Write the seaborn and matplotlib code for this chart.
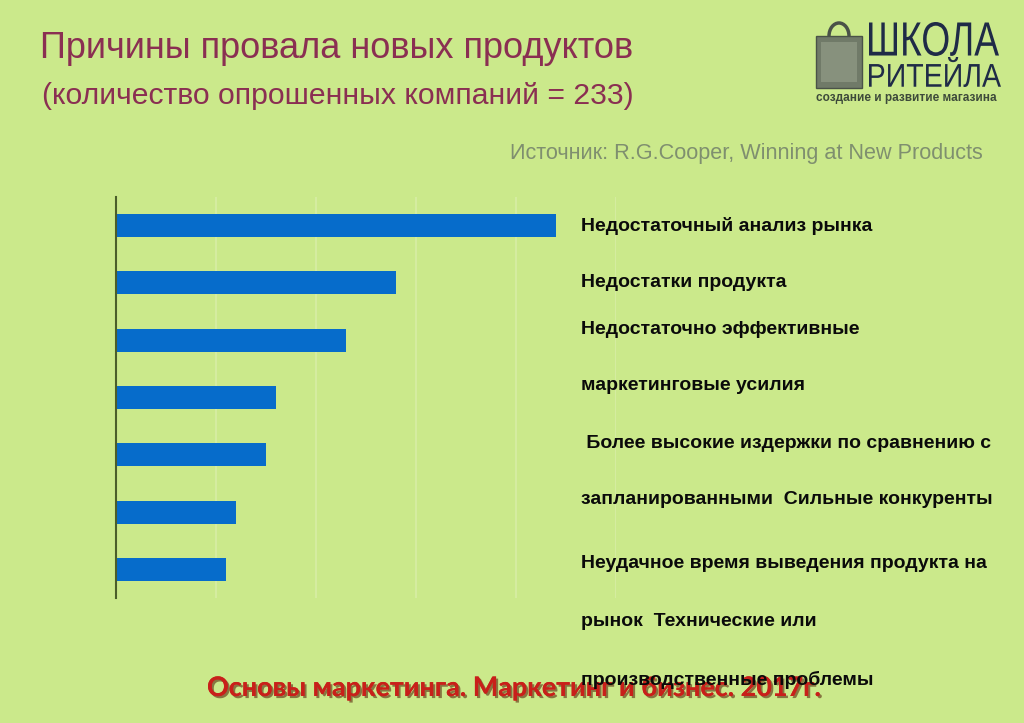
import matplotlib
matplotlib.use("Agg")
import matplotlib.pyplot as plt
import seaborn as sns
import pandas as pd
from matplotlib.patches import Rectangle, Arc, PathPatch
from matplotlib.textpath import TextPath
from matplotlib.font_manager import FontProperties
from matplotlib.transforms import Affine2D
import matplotlib.patheffects as pe

# ---- data ----
reasons = [
    "Недостаточный анализ рынка",
    "Недостатки продукта",
    "Недостаточно эффективные маркетинговые усилия",
    "Более высокие издержки по сравнению с запланированными",
    "Сильные конкуренты",
    "Неудачное время выведения продукта на рынок",
    "Технические или производственные проблемы",
]
values = [44, 28, 23, 16, 15, 12, 11]
label_lines = [
    "Недостаточный анализ рынка",
    "Недостатки продукта",
    "Недостаточно эффективные",
    "маркетинговые усилия",
    " Более высокие издержки по сравнению с",
    "запланированными  Сильные конкуренты",
    "Неудачное время выведения продукта на",
    "рынок  Технические или",
    "производственные проблемы",
]
label_y = [226, 283, 330, 385, 443, 500, 563, 622, 680]
grid_ticks = [0, 10, 20, 30, 40, 50]

title = "Причины провала новых продуктов"
subtitle = "(количество опрошенных компаний = 233)"
source = "Источник: R.G.Cooper, Winning at New Products"
footer = "Основы маркетинга. Маркетинг и бизнес. 2017г."
logo_top = "ШКОЛА"
logo_bottom = "РИТЕЙЛА"
logo_tag = "создание и развитие магазина"

BG = "#cbe98b"
W, H = 1024, 723

sns.set_theme(style="white")
plt.rcParams["font.family"] = ["Liberation Sans", "DejaVu Sans"]

fig = plt.figure(figsize=(W / 100, H / 100), dpi=100)
fig.patch.set_facecolor(BG)

ax = fig.add_axes([116 / W, 1 - 598.3 / H, 500 / W, (598.3 - 196.7) / H])
ax.set_facecolor(BG)
df = pd.DataFrame({"reason": reasons, "value": values})
sns.barplot(data=df, x="value", y="reason", orient="h", color="#066ccb",
            saturation=1, width=0.4, ax=ax, zorder=3, linewidth=0)
ax.set_xlim(0, 50)
ax.set_ylim(6.5, -0.5)
ax.set_xticks(grid_ticks)
ax.grid(axis="x", color="#d8eda5", lw=1.2, zorder=0)
ax.grid(axis="y", visible=False)
ax.set_xticklabels([])
ax.set_yticklabels([])
ax.tick_params(length=0)
ax.set_xlabel("")
ax.set_ylabel("")
for s in ["top", "right", "bottom"]:
    ax.spines[s].set_visible(False)
ax.spines["left"].set_color("#4b5e2a")
ax.spines["left"].set_linewidth(1.5)
ax.spines["left"].set_zorder(4)

def fy(y):
    return 1 - y / H

# titles
fig.text(40 / W, fy(49), title, fontsize=26, color="#8a2f52", va="center", ha="left")
fig.text(42 / W, fy(96), subtitle, fontsize=21.7, color="#8a2f52", va="center", ha="left")
fig.text(983 / W, fy(153), source, fontsize=15.6, color="#7f8f6f", va="center", ha="right")

# footer (drawn beneath the last label)
fig.text(207 / W, fy(688), footer, fontsize=19.4, color="#c8201a", fontweight="bold",
         family=["Lato", "DejaVu Sans"], va="center", ha="left", zorder=1,
         path_effects=[pe.withSimplePatchShadow(offset=(1.5, -1.5), shadow_rgbFace="#5a2a10", alpha=0.6),
                       pe.Normal()])

# right-side labels
for txt, y in zip(label_lines, label_y):
    fig.text(581 / W, fy(y), txt, fontsize=14, fontweight="bold", color="#0a0a0a",
             va="center", ha="left", zorder=5)

# logo overlay in pixel coordinates
ov = fig.add_axes([0, 0, 1, 1], zorder=6)
ov.set_xlim(0, W)
ov.set_ylim(H, 0)
ov.axis("off")
ov.patch.set_alpha(0)

def fit_text(s, x0, x1, y0, y1, color):
    tp = TextPath((0, 0), s, size=1, prop=FontProperties(family="Liberation Sans"))
    ext = tp.get_extents()
    sx = (x1 - x0) / ext.width
    sy = (y1 - y0) / ext.height
    tr = Affine2D().translate(-ext.x0, -ext.y0).scale(sx, -sy).translate(x0, y1)
    ov.add_patch(PathPatch(tr.transform_path(tp), facecolor=color, edgecolor="none"))

fit_text(logo_top, 869, 999, 22, 56, "#1f2b47")
fit_text(logo_bottom, 869, 1001, 57, 87, "#1f2b47")
ov.text(816, 98, logo_tag, fontsize=8.5, color="#3d4a3a", va="center", ha="left",
        fontweight="bold")
# bag icon
ov.add_patch(Rectangle((816, 36), 46, 52, facecolor="#707a68", edgecolor="#4a5248", lw=1))
ov.add_patch(Rectangle((821, 42), 36, 40, facecolor="#98a28c", edgecolor="none", alpha=0.6))
ov.add_patch(Arc((839, 36), 20, 26, theta1=180, theta2=360, color="#4a5248", lw=2.5))

fig.savefig("out.png", dpi=100, facecolor=BG)
